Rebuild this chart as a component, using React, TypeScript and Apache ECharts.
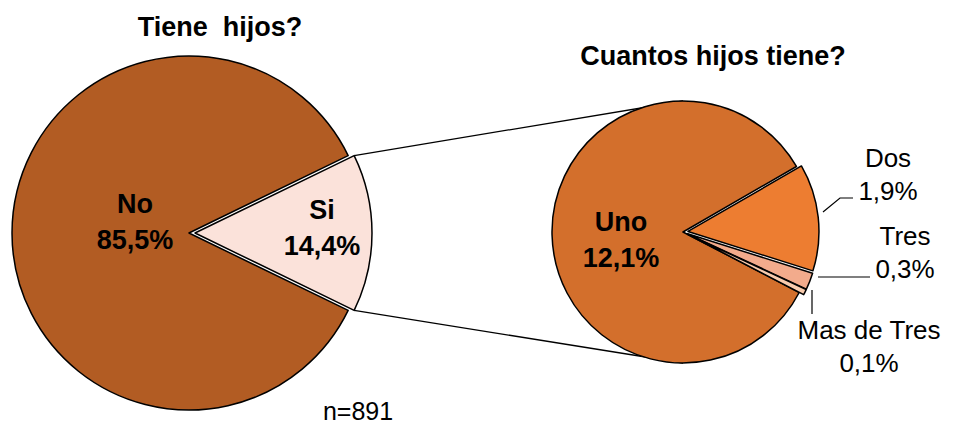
import React, { useEffect, useRef } from "react";
import * as echarts from "echarts";

const leftCategories = ["Si", "No"];
const leftValues = [14.4, 85.5];
const rightCategories = ["Dos", "Tres", "Mas de Tres", "Uno"];
const rightValues = [1.9, 0.3, 0.1, 12.1];
const leftTitle = "Tiene  hijos?";
const rightTitle = "Cuantos hijos tiene?";
const sampleNote = "n=891";

const leftColors = ["#FBE2DA", "#B25C23"];
const rightColors = ["#ED7D31", "#F2AB8C", "#F8CBAD", "#D36F2C"];

const FONT = "'Liberation Sans', Arial, sans-serif";

const fmt = (v: number) => v.toFixed(1).replace(".", ",") + "%";

export default function App() {
  const ref = useRef<HTMLDivElement>(null);
  useEffect(() => {
    if (!ref.current) return;
    const chart = echarts.init(ref.current, null, { renderer: "svg" });

    const L = { cx: 189, cy: 233, r: 177, off: 6 };
    const R = { cx: 683, cy: 232, r: 131, off: 5 };
    const leftTotal = leftValues.reduce((a, b) => a + b, 0);
    const siHalf = ((leftValues[0] / leftTotal) * 360) / 2;
    const a = (siHalf * Math.PI) / 180;
    const topCorner = [L.cx + L.off + L.r * Math.cos(a), L.cy - L.r * Math.sin(a)];
    const botCorner = [L.cx + L.off + L.r * Math.cos(a), L.cy + L.r * Math.sin(a)];

    // label placement (style only)
    const boldLabelPos: Record<string, [number, number]> = {
      Si: [322, 228],
      No: [135, 222],
      Uno: [621, 240],
    };
    const outsideLabelPos: Record<string, { p: [number, number]; line: number[][] }> = {
      Dos: { p: [888, 174], line: [[823, 212], [840, 198], [853, 198]] },
      Tres: { p: [905, 252], line: [[818, 277], [870, 277]] },
      "Mas de Tres": { p: [869, 346], line: [[812, 290], [812, 314]] },
    };

    const labelGraphics: any[] = [];
    const addBold = (name: string, value: number) => {
      const pos = boldLabelPos[name];
      labelGraphics.push({
        type: "text",
        x: pos[0],
        y: pos[1],
        z: 100,
        style: {
          text: `${name}\n${fmt(value)}`,
          font: `bold 27px ${FONT}`,
          fill: "#000",
          align: "center",
          verticalAlign: "middle",
          lineHeight: 36,
        },
      });
    };
    leftCategories.forEach((c, i) => addBold(c, leftValues[i]));
    rightCategories.forEach((c, i) => {
      if (boldLabelPos[c]) {
        addBold(c, rightValues[i]);
        return;
      }
      const o = outsideLabelPos[c];
      labelGraphics.push({
        type: "text",
        x: o.p[0],
        y: o.p[1],
        z: 100,
        style: {
          text: `${c}\n${fmt(rightValues[i])}`,
          font: `26px ${FONT}`,
          fill: "#000",
          align: "center",
          verticalAlign: "middle",
          lineHeight: 33,
        },
      });
      labelGraphics.push({
        type: "polyline",
        z: 100,
        shape: { points: o.line },
        style: { stroke: "#000", lineWidth: 1.2, fill: null },
      });
    });

    labelGraphics.push({
      type: "text",
      x: 358,
      y: 411,
      z: 100,
      style: {
        text: sampleNote,
        font: `25px ${FONT}`,
        fill: "#000",
        align: "center",
        verticalAlign: "middle",
      },
    });

    const option: any = {
      animation: false,
      backgroundColor: "#ffffff",
      title: [
        {
          text: leftTitle,
          left: 215,
          top: 8,
          textAlign: "center",
          textStyle: { fontFamily: FONT, fontSize: 27, fontWeight: "bold", color: "#000" },
        },
        {
          text: rightTitle,
          left: 708,
          top: 37,
          textAlign: "center",
          textStyle: { fontFamily: FONT, fontSize: 27, fontWeight: "bold", color: "#000" },
        },
      ],
      graphic: [
        {
          type: "line",
          shape: { x1: topCorner[0], y1: topCorner[1], x2: R.cx, y2: R.cy - R.r },
          style: { stroke: "#000", lineWidth: 1.3 },
          z: 0,
        },
        {
          type: "line",
          shape: { x1: botCorner[0], y1: botCorner[1], x2: R.cx, y2: R.cy + R.r },
          style: { stroke: "#000", lineWidth: 1.3 },
          z: 0,
        },
        ...labelGraphics,
      ],
      series: [
        {
          type: "pie",
          center: [L.cx, L.cy],
          radius: [0, L.r],
          startAngle: siHalf,
          clockwise: true,
          avoidLabelOverlap: false,
          selectedMode: "multiple",
          selectedOffset: L.off,
          silent: true,
          itemStyle: { borderColor: "#000", borderWidth: 1.5 },
          select: { itemStyle: { borderColor: "#000", borderWidth: 1.5 } },
          label: { show: false },
          labelLine: { show: false },
          data: leftCategories.map((c, i) => ({
            name: c,
            value: leftValues[i],
            selected: c === "Si",
            itemStyle: { color: leftColors[i] },
            select: { itemStyle: { color: leftColors[i] } },
          })),
        },
        {
          type: "pie",
          center: [R.cx, R.cy],
          radius: [0, R.r],
          startAngle: 30,
          clockwise: true,
          avoidLabelOverlap: false,
          selectedMode: "multiple",
          selectedOffset: R.off,
          silent: true,
          itemStyle: { borderColor: "#000", borderWidth: 1.5 },
          select: { itemStyle: { borderColor: "#000", borderWidth: 1.5 } },
          label: { show: false },
          labelLine: { show: false },
          data: rightCategories.map((c, i) => ({
            name: c,
            value: rightValues[i],
            selected: c !== "Uno",
            itemStyle: { color: rightColors[i] },
            select: { itemStyle: { color: rightColors[i] } },
          })),
        },
      ],
    };
    chart.setOption(option);
    return () => chart.dispose();
  }, []);
  return (
    <div
      ref={ref}
      style={{ position: "absolute", left: 0, top: 0, width: 956, height: 427 }}
    />
  );
}
